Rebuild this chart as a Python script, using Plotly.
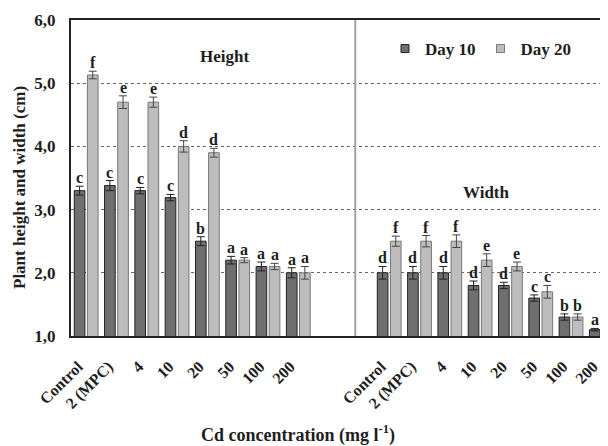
import plotly.graph_objects as go

# ---- data ----
categories = ["Control", "2 (MPC)", "4", "10", "20", "50", "100", "200"]

height_day10 = [3.30, 3.38, 3.30, 3.19, 2.50, 2.20, 2.10, 2.00]
height_day10_err = [0.07, 0.08, 0.05, 0.05, 0.07, 0.06, 0.07, 0.08]
height_day20 = [5.13, 4.70, 4.70, 4.00, 3.90, 2.20, 2.10, 2.00]
height_day20_err = [0.06, 0.10, 0.08, 0.09, 0.07, 0.04, 0.05, 0.10]

width_day10 = [2.00, 2.00, 2.00, 1.80, 1.80, 1.60, 1.30, 1.10]
width_day10_err = [0.10, 0.10, 0.10, 0.07, 0.05, 0.05, 0.05, 0.02]
width_day20 = [2.50, 2.50, 2.50, 2.20, 2.10, 1.70, 1.30, 1.10]
width_day20_err = [0.08, 0.09, 0.10, 0.10, 0.07, 0.10, 0.05, 0.02]

height_day10_letters = ["c", "c", "c", "c", "b", "a", "a", "a"]
height_day20_letters = ["f", "e", "e", "d", "d", "a", "a", "a"]
width_day10_letters = ["d", "d", "d", "d", "d", "c", "b", "a"]
width_day20_letters = ["f", "f", "f", "e", "e", "c", "b", "a"]

y_tick_values = [1, 2, 3, 4, 5, 6]
y_tick_labels = ["1,0", "2,0", "3,0", "4,0", "5,0", "6,0"]

# ---- layout helpers ----
FONT = "Liberation Serif, Times New Roman, Times, serif"
DARK = "#6f6f6f"
LIGHT = "#bdbdbd"
TXT = "#1e1e1e"

# page has an 8px body margin: figure coords = reference coords - 8
OFF = 8
PL, PT, PW, PH = 71 - OFF, 20 - OFF, 537, 316


def px(xp):
    return (xp - OFF - PL) / PW


def py(yp):
    return 1 - (yp - OFF - PT) / PH


n = len(categories)
left_pos = list(range(n))
right_pos = [n + 2 + i for i in range(n)]
x_all = left_pos + right_pos

d10 = height_day10 + width_day10
d10e = height_day10_err + width_day10_err
d20 = height_day20 + width_day20
d20e = height_day20_err + width_day20_err

fig = go.Figure()
fig.add_trace(go.Bar(
    x=x_all, y=d10, name="Day 10", showlegend=False,
    marker=dict(color=DARK, line=dict(color="#222222", width=1)),
    error_y=dict(type="data", array=d10e, color="#222222", thickness=1, width=4),
))
fig.add_trace(go.Bar(
    x=x_all, y=d20, name="Day 20", showlegend=False,
    marker=dict(color=LIGHT, line=dict(color="#777777", width=1)),
    error_y=dict(type="data", array=d20e, color="#444444", thickness=1, width=4),
))
# legend entries (small squares)
for nm, col, lc in [("Day 10", DARK, "#222222"), ("Day 20", LIGHT, "#777777")]:
    fig.add_trace(go.Scatter(
        x=[None], y=[None], mode="markers", name=nm,
        marker=dict(symbol="square", size=8, color=col, line=dict(color=lc, width=1)),
    ))

# significance letters
BAR_OFF = 0.217
annotations = []
letters10 = height_day10_letters + width_day10_letters
letters20 = height_day20_letters + width_day20_letters
for xi, v, e, t in zip(x_all, d10, d10e, letters10):
    annotations.append(dict(x=xi - BAR_OFF, y=v + e, text=t, showarrow=False,
                            xanchor="center", yanchor="bottom", yshift=-2,
                            font=dict(family=FONT, size=16, color=TXT, weight="bold")))
for xi, v, e, t in zip(x_all, d20, d20e, letters20):
    annotations.append(dict(x=xi + BAR_OFF, y=v + e, text=t, showarrow=False,
                            xanchor="center", yanchor="bottom", yshift=-2,
                            font=dict(family=FONT, size=16, color=TXT, weight="bold")))

annotations += [
    dict(x=px(224), y=py(57), xref="paper", yref="paper",
         text="Height", showarrow=False, xanchor="center", yanchor="middle",
         font=dict(family=FONT, size=17, color=TXT, weight="bold")),
    dict(x=px(486), y=py(192), xref="paper", yref="paper",
         text="Width", showarrow=False, xanchor="center", yanchor="middle",
         font=dict(family=FONT, size=17, color=TXT, weight="bold")),
    dict(x=px(20), y=py(188), xref="paper", yref="paper",
         text="Plant height and width (cm)", textangle=-90, showarrow=False,
         xanchor="center", yanchor="middle",
         font=dict(family=FONT, size=17, color=TXT, weight="bold")),
    dict(x=px(298), y=py(434), xref="paper", yref="paper",
         text="Cd concentration (mg l<sup>-1</sup>)", showarrow=False,
         xanchor="center", yanchor="middle",
         font=dict(family=FONT, size=18, color=TXT, weight="bold")),
]

fig.add_shape(type="line", xref="x", yref="paper", x0=8.88, x1=8.88, y0=0, y1=1,
              line=dict(color="#a0a0a0", width=2))

fig.update_layout(
    width=600, height=438,
    margin=dict(l=PL, r=0, t=PT, b=438 - PT - PH),
    paper_bgcolor="white", plot_bgcolor="white",
    barmode="group", bargap=0.132, bargroupgap=0.19,
    annotations=annotations,
    legend=dict(orientation="h", x=px(481), xanchor="center",
                y=py(49), yanchor="middle",
                font=dict(family=FONT, size=17, color=TXT, weight="bold"),
                bgcolor="rgba(0,0,0,0)", itemwidth=30, tracegroupgap=0),
    xaxis=dict(
        range=[-0.5, 17.22], tickmode="array", tickvals=x_all,
        ticktext=categories + categories, tickangle=-45,
        tickfont=dict(family=FONT, size=16, color=TXT, weight="bold"),
        showline=True, linecolor="#222", linewidth=2, mirror=True,
        showgrid=False, zeroline=False, ticks="", ticklabelstandoff=13,
        ticklabelshift=-8, ticklabeloverflow="allow",
    ),
    yaxis=dict(
        range=[1, 6], tickmode="array", tickvals=y_tick_values, ticktext=y_tick_labels,
        tickfont=dict(family=FONT, size=17, color=TXT, weight="bold"),
        showline=True, linecolor="#222", linewidth=2,
        showgrid=True, gridcolor="#666666", griddash="dot", gridwidth=1,
        zeroline=False, ticks="", ticklabelstandoff=10,
    ),
)

fig.write_html("out.html")
